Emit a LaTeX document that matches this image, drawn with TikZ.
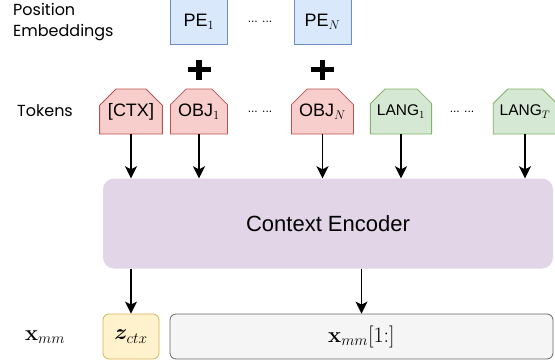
\documentclass[tikz,border=0pt]{standalone}
\usepackage{fix-cm}
\usepackage[no-math]{fontspec}
\usepackage{amsmath,bm}
\setmainfont{Liberation Sans}
\newfontfamily\labelfont{Poppins}
\usetikzlibrary{arrows.meta,shapes.misc}

\definecolor{redfill}{HTML}{F8CECC}
\definecolor{redline}{HTML}{B85450}
\definecolor{greenfill}{HTML}{D5E8D4}
\definecolor{greenline}{HTML}{82B366}
\definecolor{bluefill}{HTML}{DAE8FC}
\definecolor{blueline}{HTML}{6C8EBF}
\definecolor{purplefill}{HTML}{E1D5E7}
\definecolor{yellowfill}{HTML}{FFF2CC}
\definecolor{yellowline}{HTML}{D6B656}
\definecolor{grayfill}{HTML}{F5F5F5}
\definecolor{grayline}{HTML}{666666}

\tikzset{
  tokbox/.style={chamfered rectangle, chamfered rectangle corners={north west,north east},
    chamfered rectangle xsep=9pt, chamfered rectangle ysep=8pt,
    minimum width=56pt, minimum height=45pt, inner sep=0pt, line width=0.8pt,
    font=\fontsize{18}{20}\selectfont},
  objtok/.style={tokbox, draw=redline, fill=redfill},
  langtok/.style={tokbox, draw=greenline, fill=greenfill, font=\fontsize{15.5}{18}\selectfont},
  pebox/.style={rectangle, draw=blueline, fill=bluefill, minimum width=57pt,
    minimum height=45pt, inner sep=0pt, line width=0.8pt, font=\fontsize{18}{20}\selectfont},
  encbox/.style={rectangle, rounded corners=11pt, fill=purplefill, minimum width=450pt,
    minimum height=90pt, font=\fontsize{22}{24}\selectfont},
  outbox/.style={rectangle, rounded corners=6pt, minimum height=45pt, inner sep=0pt,
    line width=0.8pt, font=\fontsize{22}{24}\selectfont},
  sidelabel/.style={font=\labelfont\fontsize{16}{21}\selectfont, align=left, inner sep=0pt},
  dots/.style={font=\fontsize{12}{13}\selectfont, inner sep=0pt},
  arr/.style={line width=1.8pt, -{Stealth[length=12pt,width=12pt,inset=3pt]}},
  plusbar/.style={line width=5.5pt},
}

\begin{document}
\begin{tikzpicture}[x=1pt,y=-1pt]
\useasboundingbox (0,0) rectangle (555,362);

% side labels
\node[sidelabel, anchor=west] (lpos) at (13,22) {Position\\Embeddings};
\node[sidelabel, anchor=west] (ltok) at (17,111) {Tokens};
\node[font=\fontsize{22}{24}\selectfont] (lxmm) at (45,337) {$\mathbf{x}_{mm}$};

% position embeddings
\node[pebox] (pe1) at (199,21.5) {PE$_1$};
\node[pebox] (peN) at (322.5,21.5) {PE$_N$};
\node[dots] (pedots) at (260,22) {... ...};

% plus signs
\coordinate (plus1) at (199,69.5);
\coordinate (plusN) at (322.5,69.5);
\foreach \p in {plus1,plusN}{
  \draw[plusbar] ([xshift=-11.5pt]\p) -- ([xshift=11.5pt]\p);
  \draw[plusbar] ([yshift=-10pt]\p) -- ([yshift=10pt]\p);
}

% tokens
\node[objtok] (ctx) at (131,111.5) {[CTX]};
\node[objtok] (obj1) at (199,111.5) {OBJ$_1$};
\node[dots] (objdots) at (260,112) {... ...};
\node[objtok] (objN) at (322.5,111.5) {OBJ$_N$};
\node[langtok] (lang1) at (401,111.5) {LANG$_1$};
\node[dots] (langdots) at (462,112) {... ...};
\node[langtok] (langT) at (525,111.5) {LANG$_T$};

% encoder
\node[encbox] (enc) at (328,223.5) {Context Encoder};

% outputs
\node[outbox, draw=yellowline, fill=yellowfill, minimum width=56pt] (zctx) at (131,336.5) {$\bm{z}_{ctx}$};
\node[outbox, draw=grayline, fill=grayfill, minimum width=383pt] (xrest) at (361.5,336.5) {$\mathbf{x}_{mm}[1{:}]$};

% connectors
\foreach \t in {ctx,obj1,objN,lang1,langT}{
  \draw[arr] (\t.south) -- (\t.south |- enc.north);
}
\draw[arr] (zctx.north |- enc.south) -- (zctx.north);
\draw[arr] (xrest.north |- enc.south) -- (xrest.north);
\end{tikzpicture}
\end{document}
